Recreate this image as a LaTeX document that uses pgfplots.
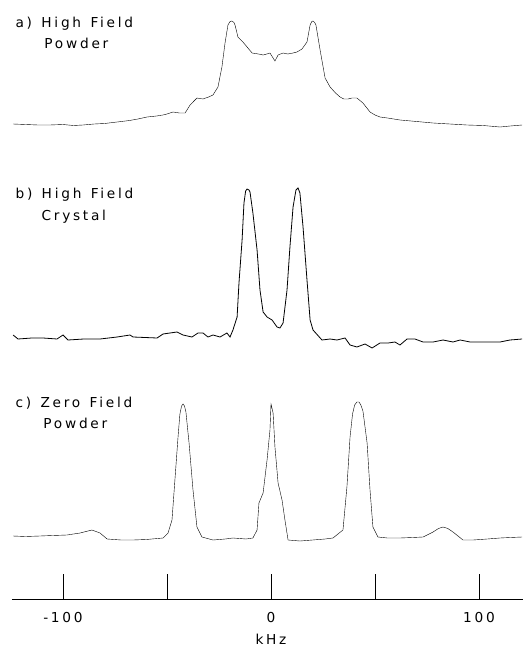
\documentclass[border=0pt]{standalone}
\usepackage{pgfplots}
\pgfplotsset{compat=1.18}
\usepackage{fontspec}
\setmainfont{DejaVu Sans}[LetterSpace=20]
\begin{document}
\begin{tikzpicture}
\useasboundingbox (0,0) rectangle (523pt,648pt);
\begin{axis}[
  at={(0pt,0pt)}, anchor=south west, scale only axis,
  width=523pt, height=648pt,
  xmin=-130.29, xmax=121.15, ymin=0, ymax=648, y dir=reverse,
  hide axis, clip=false,
  cycle list={{black, line width=0.8pt, no markers, smooth, tension=0.35}},
]
% a) High Field Powder
\addplot coordinates {
(-124.0,124) (-118,124.5) (-112,125) (-106.3,125) (-100,124.5) (-95,125.5) (-90.4,125)
(-85,124) (-80,123.5) (-74.0,122) (-68,120.5) (-64,119) (-59.6,117) (-55,116) (-52,115)
(-50.0,114) (-47.1,112) (-44,113) (-41.3,113) (-38.9,105) (-35.6,98) (-32.7,99)
(-30,97) (-27.9,95) (-25.5,87) (-23.6,67) (-22.1,43) (-20.7,25) (-19.7,21.5) (-18.8,21) (-17.8,22.5) (-17.3,25)
(-15.9,37) (-13.5,42) (-11.5,47) (-9.1,53) (-6,54) (-3.8,55) (-2,54) (-0.5,53)
(1.9,61) (3.4,55) (5.8,53) (8,54) (10.6,53) (12.5,52) (14.9,49) (17.3,42) (18.8,25)
(19.6,21.5) (20.2,21) (21.0,22.5) (21.6,25) (23.6,50) (26.0,78) (28.4,87) (31,93) (33.2,97) (35,99) (37.0,99)
(39,98) (41.3,98) (44.2,103) (47.6,112) (50,115) (52.4,117) (56,118) (62.0,120)
(70,121.5) (77.9,123) (86,124) (94.2,125) (102,125.5) (110.1,127) (115,126) (120.7,125)
};
% b) High Field Crystal
\addplot coordinates {
(-124.0,335) (-121.6,339) (-115,338) (-109.6,338) (-102.9,339) (-100.0,335) (-97.6,340)
(-90,339) (-82.2,339) (-74.0,337) (-67.8,335) (-66.3,337) (-54.8,338) (-51.9,334)
(-45.2,332) (-42.3,335) (-38.0,337) (-35.1,333) (-32.7,333) (-30.3,337) (-27.9,335)
(-24.5,337) (-21.2,333) (-19.7,337) (-18.3,330) (-16.3,317) (-15.4,283) (-13.9,240)
(-13.0,203) (-12.2,191) (-11.5,189) (-10.6,190) (-10.1,192) (-8.7,213) (-6.7,250) (-5.3,290) (-3.8,312)
(-1.9,317) (0.5,320) (2.9,327) (4.3,328) (5.8,323) (7.7,290) (9.1,247) (10.6,207)
(12.0,190) (13.0,188) (13.9,193) (15.4,227) (17.3,280) (18.8,320) (20.2,330)
(24.5,340) (28.4,339) (31.7,340) (35.6,338) (38.0,345) (41.3,347) (45.2,344)
(48.6,348) (52.4,343) (56.3,343) (59.6,342) (62.0,345) (65.4,339) (69.2,339)
(73.1,342) (77.9,342) (82.7,340) (87.5,342) (90.9,340) (95.7,342) (100.5,342)
(105.3,342) (110.1,342) (114.9,340) (120.7,339)
};
% c) Zero Field Powder
\addplot coordinates {
(-124.0,536) (-118,536.5) (-111.1,536) (-105,535.5) (-98.1,535) (-91.8,533) (-86.1,530)
(-82.2,533) (-78.8,539) (-72,540) (-66.3,540) (-60,539.5) (-51.9,538) (-49.5,533)
(-47.6,520) (-46.2,480) (-44.7,437) (-43.8,414) (-43.0,406) (-42.3,404) (-41.6,406) (-40.9,412) (-39.4,443)
(-37.5,490) (-35.6,527) (-33.2,537) (-27.9,540) (-22,539) (-18.3,538) (-12,539)
(-8.7,538) (-6.7,530) (-5.8,503) (-3.8,493) (-1.9,460) (-0.5,430) (0,404) (1.0,413)
(1.9,447) (3.4,483) (5.3,500) (6.7,520) (8.2,540) (13.9,541) (20,540) (26,539)
(29.8,538) (34.6,530) (36.5,487) (38.0,437) (39.2,414) (40.2,405) (41.3,402) (42.3,402) (43.2,405) (44.2,411)
(46.2,443) (47.6,490) (49.0,527) (51.4,537) (56,538) (62.0,538) (68,537.5)
(73.1,537) (77.9,532) (80.5,528.5) (82.7,527) (85,528.5) (87.5,532) (92.3,540) (97.1,540) (104,539)
(110.1,538) (115,537.5) (120.7,537)
};
\node[anchor=base west, font=\fontsize{13.7}{16}\selectfont] at (axis cs:-124.5,27.7) {a)\, High\, Field};
\node[anchor=base west, font=\fontsize{13.7}{16}\selectfont] at (axis cs:-110.6,48.3) {Powder};
\node[anchor=base west, font=\fontsize{13.7}{16}\selectfont] at (axis cs:-124.5,198) {b)\, High\, Field};
\node[anchor=base west, font=\fontsize{13.7}{16}\selectfont] at (axis cs:-112.0,220) {Crystal};
\node[anchor=base west, font=\fontsize{13.7}{16}\selectfont] at (axis cs:-124.5,407) {c)\, Zero\, Field};
\node[anchor=base west, font=\fontsize{13.7}{16}\selectfont] at (axis cs:-111.1,428) {Powder};
\end{axis}
\begin{axis}[
  at={(12pt,49pt)}, anchor=south west, scale only axis,
  width=511pt, height=30pt,
  xmin=-124.5, xmax=121.15, ymin=0, ymax=1,
  axis x line=bottom, axis y line=none,
  axis line style={-, line width=0.6pt},
  xtick={-100,-50,0,50,100}, xticklabels={-100,,0,,100},
  major tick length=25pt, tick align=inside,
  xtick style={black, line width=0.6pt},
  xticklabel style={anchor=center, yshift=-18.5pt, font=\fontsize{13.7}{16}\selectfont},
  xlabel={kHz},
  xlabel style={at={(axis description cs:0.5068,0)}, anchor=center, yshift=-40pt, font=\fontsize{13.7}{16}\selectfont},
]
\addplot[draw=none] coordinates {(-124.5,0) (121.15,0)};
\end{axis}
\end{tikzpicture}
\end{document}
